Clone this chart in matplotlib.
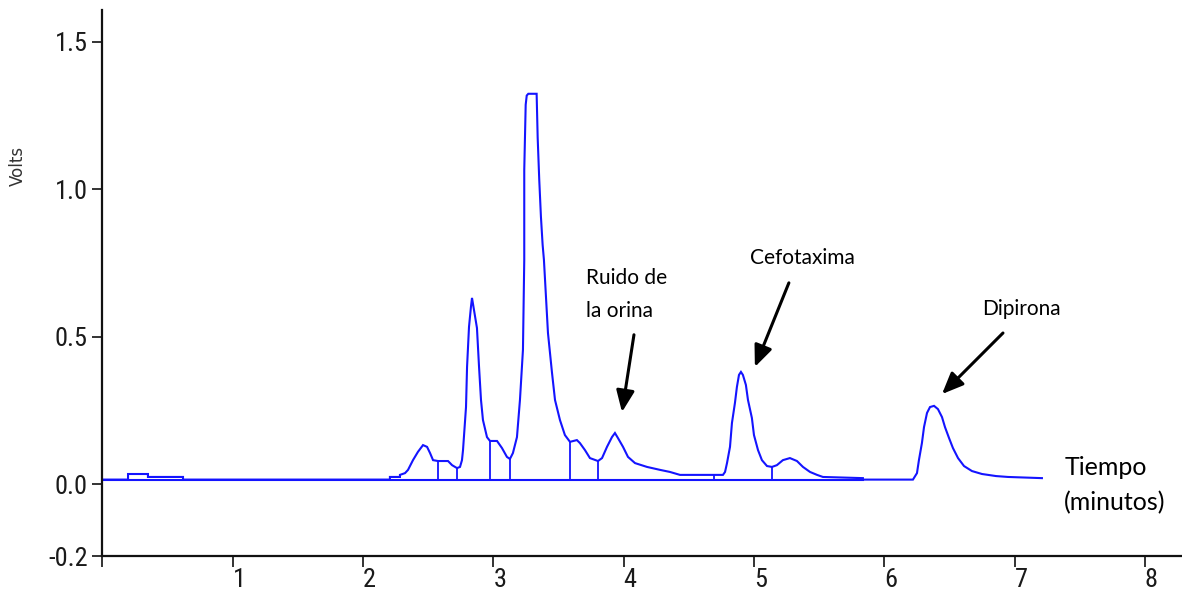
import os
import numpy as np
import matplotlib
matplotlib.use('Agg')
import matplotlib.pyplot as plt
from matplotlib import font_manager
from matplotlib.font_manager import FontProperties

# ------------------- chromatogram data (time in min, signal in V) -------------------
trace_t = [0.0, 0.196, 0.196, 0.349, 0.349, 0.618, 0.618, 2.206, 2.206, 2.283,
           2.283, 2.322, 2.345, 2.383, 2.421, 2.460, 2.491, 2.514, 2.537, 2.575,
           2.652, 2.683, 2.721, 2.744, 2.759, 2.767, 2.790, 2.798, 2.813, 2.828,
           2.836, 2.851, 2.874, 2.890, 2.905, 2.920, 2.951, 2.974, 3.028, 3.066,
           3.104, 3.127, 3.150, 3.181, 3.204, 3.227, 3.237, 3.237, 3.248, 3.256,
           3.268, 3.332, 3.340, 3.352, 3.365, 3.378, 3.388, 3.404, 3.419, 3.450,
           3.473, 3.511, 3.549, 3.588, 3.641, 3.664, 3.703, 3.741, 3.803, 3.834,
           3.872, 3.910, 3.933, 3.956, 3.995, 4.033, 4.087, 4.179, 4.279, 4.355,
           4.432, 4.762, 4.778, 4.793, 4.816, 4.831, 4.854, 4.869, 4.885, 4.900,
           4.915, 4.938, 4.954, 4.984, 5.000, 5.031, 5.061, 5.100, 5.138, 5.176,
           5.222, 5.276, 5.330, 5.376, 5.430, 5.484, 5.529, 5.836, 5.836, 6.220,
           6.251, 6.266, 6.289, 6.305, 6.328, 6.351, 6.382, 6.412, 6.443, 6.466,
           6.497, 6.527, 6.566, 6.612, 6.673, 6.750, 6.858, 6.949, 7.210]
trace_v = [0.015, 0.015, 0.034, 0.034, 0.024, 0.024, 0.015, 0.015, 0.024, 0.024,
           0.031, 0.037, 0.048, 0.081, 0.109, 0.132, 0.126, 0.105, 0.081, 0.078,
           0.078, 0.064, 0.054, 0.058, 0.081, 0.115, 0.261, 0.397, 0.533, 0.601,
           0.631, 0.590, 0.529, 0.397, 0.285, 0.217, 0.159, 0.146, 0.146, 0.122,
           0.092, 0.085, 0.105, 0.159, 0.285, 0.455, 0.760, 1.065, 1.286, 1.317,
           1.323, 1.323, 1.174, 1.032, 0.906, 0.811, 0.760, 0.635, 0.512, 0.377,
           0.285, 0.217, 0.166, 0.143, 0.149, 0.139, 0.115, 0.088, 0.078, 0.088,
           0.126, 0.159, 0.173, 0.156, 0.126, 0.092, 0.071, 0.058, 0.048, 0.041,
           0.031, 0.031, 0.041, 0.071, 0.126, 0.207, 0.275, 0.329, 0.370, 0.380,
           0.370, 0.336, 0.285, 0.224, 0.166, 0.115, 0.081, 0.061, 0.058, 0.064,
           0.081, 0.088, 0.078, 0.058, 0.041, 0.031, 0.024, 0.020, 0.015, 0.015,
           0.037, 0.081, 0.139, 0.193, 0.241, 0.261, 0.265, 0.254, 0.227, 0.193,
           0.156, 0.122, 0.088, 0.061, 0.044, 0.034, 0.027, 0.024, 0.020]

# integration baseline and peak separation marks
baseline_v = 0.015
baseline_t = [0.0, 5.836]
drop_t = [2.575, 2.721, 2.974, 3.127, 3.588, 3.803, 4.693, 5.138]

x_ticks = [0, 1, 2, 3, 4, 5, 6, 7, 8]
x_labels = ['', '1', '2', '3', '4', '5', '6', '7', '8']
y_min = -0.244
y_ticks = [y_min, 0.0, 0.5, 1.0, 1.5]
y_labels = ['-0.2', '0.0', '0.5', '1.0', '1.5']


def pick_font(names, default='DejaVu Sans'):
    for name in names:
        try:
            font_manager.findfont(FontProperties(family=name), fallback_to_default=False)
            return name
        except ValueError:
            pass
    return default


def narrow_font():
    # look for a condensed face for the tick numbers
    candidates = [('Noto Sans ExtraCondensed', 'normal'), ('Noto Sans', 'extra-condensed'),
                  ('Roboto Condensed', 'normal'), ('Liberation Sans Narrow', 'normal'),
                  ('Noto Sans Condensed', 'normal'), ('Noto Sans', 'condensed'),
                  ('DejaVu Sans', 'condensed'), ('Open Sans', 'condensed')]
    for fam, stretch in candidates:
        prop = FontProperties(family=fam, stretch=stretch)
        try:
            path = font_manager.findfont(prop, fallback_to_default=False)
        except ValueError:
            continue
        name = os.path.basename(path).lower()
        if 'condensed' in name or 'narrow' in name:
            return prop, True
    return FontProperties(family='Liberation Sans'), False


tick_prop, is_narrow = narrow_font()
tick_prop.set_size(19 if is_narrow else 14)
note_font = pick_font(['Lato', 'Open Sans'])

blue = '#1414ff'

fig = plt.figure(figsize=(11.82, 5.92), dpi=100)
ax = fig.add_axes([0.0867, 0.0608, 0.9133, 0.9223])

# ------------------- signal -------------------
ax.plot(trace_t, trace_v, color=blue, lw=1.5, solid_joinstyle='miter')
ax.plot(baseline_t, [baseline_v, baseline_v], color=blue, lw=1.5)
drop_top = np.interp(drop_t, trace_t, trace_v)
ax.vlines(drop_t, baseline_v, drop_top, color=blue, lw=1.3)

# ------------------- axes -------------------
ax.set_xlim(0, 8.285)
ax.set_ylim(y_min, 1.607)
for side in ['top', 'right']:
    ax.spines[side].set_visible(False)
for side in ['left', 'bottom']:
    ax.spines[side].set_linewidth(1.6)
    ax.spines[side].set_color('#111111')

ax.set_xticks(x_ticks)
ax.set_xticklabels(x_labels, fontproperties=tick_prop, ha='left', color='#1a1a1a')
ax.set_yticks(y_ticks)
ax.set_yticklabels(y_labels, fontproperties=tick_prop, color='#1a1a1a')
ax.tick_params(axis='x', direction='out', length=8, width=1.2, pad=0.5, colors='#111111')
ax.tick_params(axis='y', direction='out', length=7, width=1.2, pad=3.5, colors='#111111')
for lab in ax.get_xticklabels():
    lab.set_color('#1a1a1a')
for lab in ax.get_yticklabels():
    lab.set_color('#1a1a1a')

ax.text(-0.078, 0.714, 'Volts', transform=ax.transAxes, rotation=90,
        fontfamily='DejaVu Sans', fontsize=12, color='#333333', ha='center', va='center')

# ------------------- peak annotations -------------------
arrow = dict(arrowstyle='-|>,head_length=1.3,head_width=0.55', color='black', lw=2.2,
             shrinkA=0, shrinkB=0)
ax.annotate('', xy=(3.987, 0.244), xytext=(4.079, 0.506), arrowprops=arrow)
ax.annotate('', xy=(5.007, 0.397), xytext=(5.268, 0.682), arrowprops=arrow)
ax.annotate('', xy=(6.443, 0.305), xytext=(6.911, 0.512), arrowprops=arrow)

note = dict(fontfamily=note_font, fontsize=15, color='black', va='baseline', ha='left')
ax.text(3.711, 0.679, 'Ruido de', **note)
ax.text(3.711, 0.567, 'la orina', **note)
ax.text(4.969, 0.747, 'Cefotaxima', **note)
ax.text(6.750, 0.573, 'Dipirona', **note)

ax.text(7.387, 0.031, 'Tiempo', fontfamily=note_font, fontsize=18, va='baseline', ha='left')
ax.text(7.379, -0.088, '(minutos)', fontfamily=note_font, fontsize=18, va='baseline',
        ha='left', clip_on=False)

fig.savefig('out.png', dpi=100)
